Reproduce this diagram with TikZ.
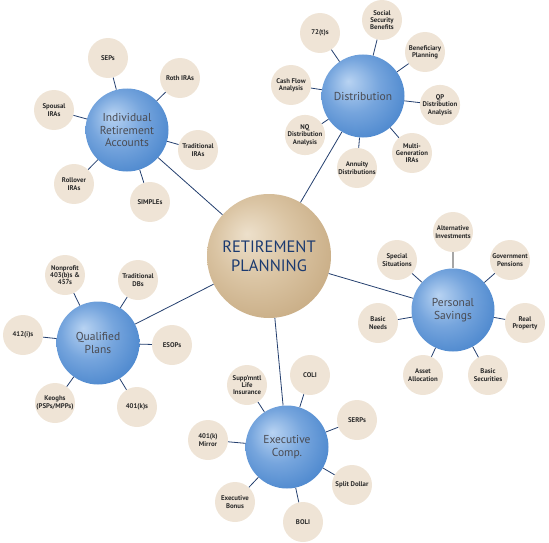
\documentclass[tikz,border=0pt]{standalone}
\usepackage{fontspec}
\setmainfont{PT Sans}
\usetikzlibrary{calc}
\definecolor{rnavy}{HTML}{1B3A70}
\definecolor{rline}{HTML}{243F6E}
\definecolor{rsat}{HTML}{EFE4D6}
\definecolor{rtext}{HTML}{2A2A2A}
\definecolor{rhub}{HTML}{4A4B52}
\definecolor{bhi}{HTML}{B8D3F2}
\definecolor{bmid}{HTML}{76A5DD}
\definecolor{bedge}{HTML}{4A86CD}
\definecolor{thi}{HTML}{EDE0CB}
\definecolor{tmid}{HTML}{DAC4A3}
\definecolor{tedge}{HTML}{C8AC84}
\pgfdeclareradialshading{bluesphere}{\pgfqpoint{-9bp}{9bp}}{color(0bp)=(bhi); color(16bp)=(bmid); color(32bp)=(bedge); color(50bp)=(bedge)}
\pgfdeclareradialshading{tansphere}{\pgfqpoint{-9bp}{9bp}}{color(0bp)=(thi); color(16bp)=(tmid); color(32bp)=(tedge); color(50bp)=(tedge)}

\begin{document}
\begin{tikzpicture}[x=1pt,y=-1pt,
  core/.style={circle,minimum size=124pt,inner sep=0pt,shade,shading=tansphere,
               text=rnavy,align=center,font=\fontsize{16.5}{19}\selectfont},
  hub/.style={circle,minimum size=83pt,inner sep=0pt,shade,shading=bluesphere,
              text=rhub,align=center,font=\fontsize{11.5}{12.8}\selectfont},
  sat/.style={circle,minimum size=40pt,inner sep=0pt,fill=rsat,text=rtext,align=center,
              font=\bfseries\fontsize{6.8}{7.3}\selectfont},
  ln/.style={draw=rline,line width=0.8pt},
  thick ln/.style={draw=gray!70,line width=2pt}]
  \useasboundingbox (0,0) rectangle (549,543);

  \node[core] (core) at (269,256) {RETIREMENT\\PLANNING};

  % hubs
  \node[hub] (ira)  at (127,130) {Individual\\Retirement\\Accounts};
  \node[hub] (dist) at (363,96)  {Distribution};
  \node[hub] (sav)  at (453,310) {Personal\\Savings};
  \node[hub] (qual) at (98,343)  {Qualified\\Plans};
  \node[hub] (exec) at (287,447) {Executive\\Comp.};

  % individual retirement accounts
  \node[sat] (seps)   at (108,58)  {SEPs};
  \node[sat] (roth)   at (180,78)  {Roth IRAs};
  \node[sat] (tira)   at (198,150) {Traditional\\IRAs};
  \node[sat] (simple) at (150,202) {SIMPLEs};
  \node[sat] (roll)   at (74,184)  {Rollover\\IRAs};
  \node[sat] (spou)   at (54,110)  {Spousal\\IRAs};

  % distribution
  \node[sat] (t72)   at (320,33)  {72(t)s};
  \node[sat] (ssb)   at (382,20)  {Social\\Security\\Benefits};
  \node[sat] (benef) at (425,52)  {Beneficiary\\Planning};
  \node[sat] (qpd)   at (440,105) {QP\\Distribution\\Analysis};
  \node[sat] (multi) at (412,153) {Multi-\\Generation\\IRAs};
  \node[sat] (annu)  at (357,168) {Annuity\\Distributions};
  \node[sat] (nqd)   at (305,135) {NQ\\Distribution\\Analysis};
  \node[sat] (cash)  at (291,85)  {Cash Flow\\Analysis};

  % personal savings
  \node[sat] (alt)    at (453,232) {Alternative\\Investments};
  \node[sat] (gov)    at (510,260) {Government\\Pensions};
  \node[sat] (real)   at (525,323) {Real\\Property};
  \node[sat] (bsec)   at (488,375) {Basic\\Securities};
  \node[sat] (asset)  at (423,375) {Asset\\Allocation};
  \node[sat] (bneeds) at (378,323) {Basic\\Needs};
  \node[sat] (spec)   at (397,260) {Special\\Situations};

  % qualified plans
  \node[sat] (npft)  at (65,275)  {Nonprofit\\403(b)s \&\\457s};
  \node[sat] (tdb)   at (138,280) {Traditional\\DBs};
  \node[sat] (esop)  at (172,345) {ESOPs};
  \node[sat] (k401)  at (137,407) {401(k)s};
  \node[sat] (keogh) at (55,403)  {Keoghs\\(PSPs/MPPs)};
  \node[sat] (i412)  at (23,335)  {412(i)s};

  % executive comp
  \node[sat] (supp)   at (247,385) {Supp'mntl\\Life\\Insurance};
  \node[sat] (coli)   at (310,375) {COLI};
  \node[sat] (serp)   at (357,420) {SERPs};
  \node[sat] (split)  at (352,485) {Split Dollar};
  \node[sat] (boli)   at (303,522) {BOLI};
  \node[sat] (ebonus) at (235,502) {Executive\\Bonus};
  \node[sat] (mirror) at (208,440) {401(k)\\Mirror};

  \draw[ln] (core)--(ira); \draw[ln] (core)--(dist); \draw[ln] (core)--(sav);
  \draw[ln] (core)--(qual); \draw[ln] (core)--(exec);

  \draw[ln] (ira)--(seps); \draw[ln] (ira)--(roth); \draw[ln] (ira)--(tira);
  \draw[ln] (ira)--(simple); \draw[ln] (ira)--(roll); \draw[ln] (ira)--(spou);

  \draw[ln] (dist)--(t72); \draw[ln] (dist)--(ssb); \draw[ln] (dist)--(benef);
  \draw[ln] (dist)--(qpd); \draw[ln] (dist)--(multi); \draw[ln] (dist)--(annu);
  \draw[ln] (dist)--(nqd); \draw[ln] (dist)--(cash);

  \draw[thick ln] (sav)--(alt); \draw[ln] (sav)--(gov); \draw[ln] (sav)--(real);
  \draw[ln] (sav)--(bsec); \draw[ln] (sav)--(asset); \draw[ln] (sav)--(bneeds);
  \draw[ln] (sav)--(spec);

  \draw[ln] (qual)--(npft); \draw[ln] (qual)--(tdb); \draw[ln] (qual)--(esop);
  \draw[ln] (qual)--(k401); \draw[ln] (qual)--(keogh); \draw[ln] (qual)--(i412);

  \draw[ln] (exec)--(supp); \draw[ln] (exec)--(coli); \draw[ln] (exec)--(serp);
  \draw[ln] (exec)--(split); \draw[ln] (exec)--(boli); \draw[ln] (exec)--(ebonus);
  \draw[ln] (exec)--(mirror);
\end{tikzpicture}
\end{document}
